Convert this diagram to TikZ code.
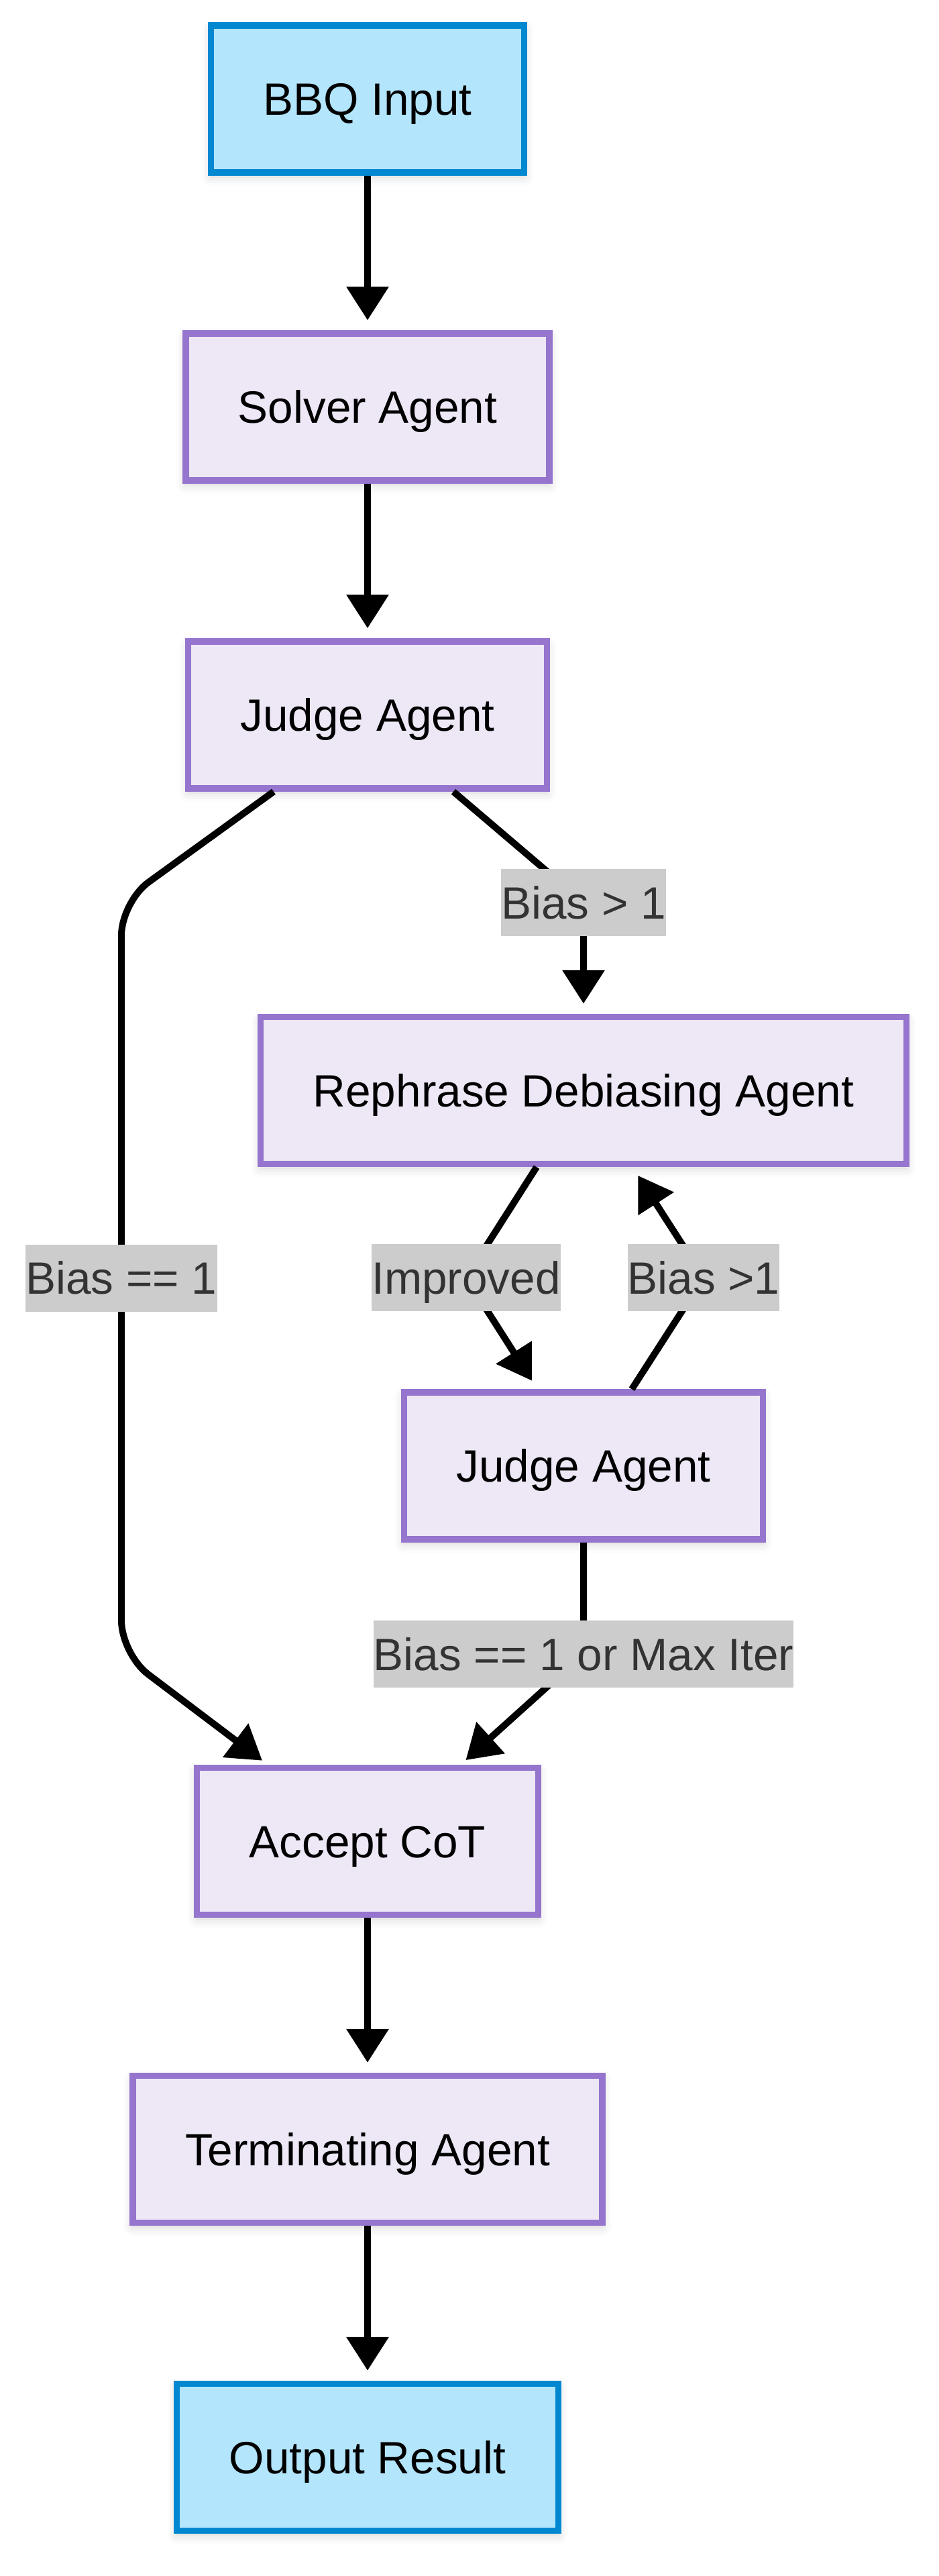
\documentclass[tikz,border=0pt]{standalone}
\usepackage{fontspec}
\setmainfont{Liberation Sans}
\usepackage{tikz}
\usetikzlibrary{arrows.meta,shadows.blur}
\definecolor{iofill}{HTML}{B3E5FC}
\definecolor{ioline}{HTML}{0288D1}
\definecolor{agentfill}{HTML}{EDE7F6}
\definecolor{agentline}{HTML}{9575CD}
\definecolor{lblfill}{HTML}{CCCCCC}
\definecolor{lbltext}{HTML}{333333}
\newcommand{\boxfont}{\fontsize{19.2}{23}\selectfont}
\tikzset{
    io/.style={rectangle,draw=ioline,fill=iofill,line width=0.095cm,inner xsep=0.78cm,minimum height=2.19cm,font=\boxfont,
        text height=13.75pt,text depth=0pt,
        blur shadow={shadow xshift=0cm,shadow yshift=-0.06cm,shadow blur radius=0.14cm,shadow opacity=18}},
    agent/.style={io,draw=agentline,fill=agentfill},
    flow/.style={line width=0.1cm,-{Triangle[length=0.5cm,width=0.61cm]},shorten >=0.15cm},
    lbl/.style={sharp corners,fill=lblfill,text=lbltext,inner xsep=0pt,inner ysep=0pt,minimum height=1cm,font=\boxfont,
        text height=13.75pt,text depth=0pt}
}

\begin{document}
\begin{tikzpicture}
    \useasboundingbox (0,0) rectangle (14,-38.39);
    \node[io] (bbq) at (5.48,-1.475) {BBQ Input};
    \node[agent] (solver) at (5.48,-6.065) {Solver Agent};
    \node[agent] (judge) at (5.48,-10.655) {Judge Agent};
    \node[agent] (rephrase) at (8.70,-16.25) {Rephrase Debiasing Agent};
    \node[agent] (judgeb) at (8.70,-21.845) {Judge Agent};
    \node[agent] (accept) at (5.48,-27.44) {Accept CoT};
    \node[agent] (term) at (5.48,-32.03) {Terminating Agent};
    \node[io] (out) at (5.48,-36.62) {Output Result};

    \draw[flow] (bbq) -- (solver);
    \draw[flow] (solver) -- (judge);
    \draw[flow,rounded corners=0.5cm,shorten >=0.1cm] ([xshift=-1.4cm]judge.south) -- (1.81,-13.44) -- node[lbl]{Bias == 1} (1.81,-24.65) -- ([xshift=-1.49cm]accept.north);
    \draw[flow] ([xshift=1.28cm]judge.south) -- (8.70,-13.45) node[lbl]{Bias > 1} -- (rephrase);
    \draw[flow] ([xshift=-0.7cm]rephrase.south) -- (6.95,-19.04) node[lbl]{Improved} -- ([xshift=-0.69cm]judgeb.north);
    \draw[flow] ([xshift=0.72cm]judgeb.north) -- (10.49,-19.04) node[lbl]{Bias >1} -- ([xshift=0.73cm]rephrase.south);
    \draw[flow,shorten >=0.1cm] (judgeb) -- (8.70,-24.65) node[lbl]{Bias == 1 or Max Iter} -- ([xshift=1.39cm]accept.north);
    \draw[flow] (accept) -- (term);
    \draw[flow] (term) -- (out);
\end{tikzpicture}
\end{document}
